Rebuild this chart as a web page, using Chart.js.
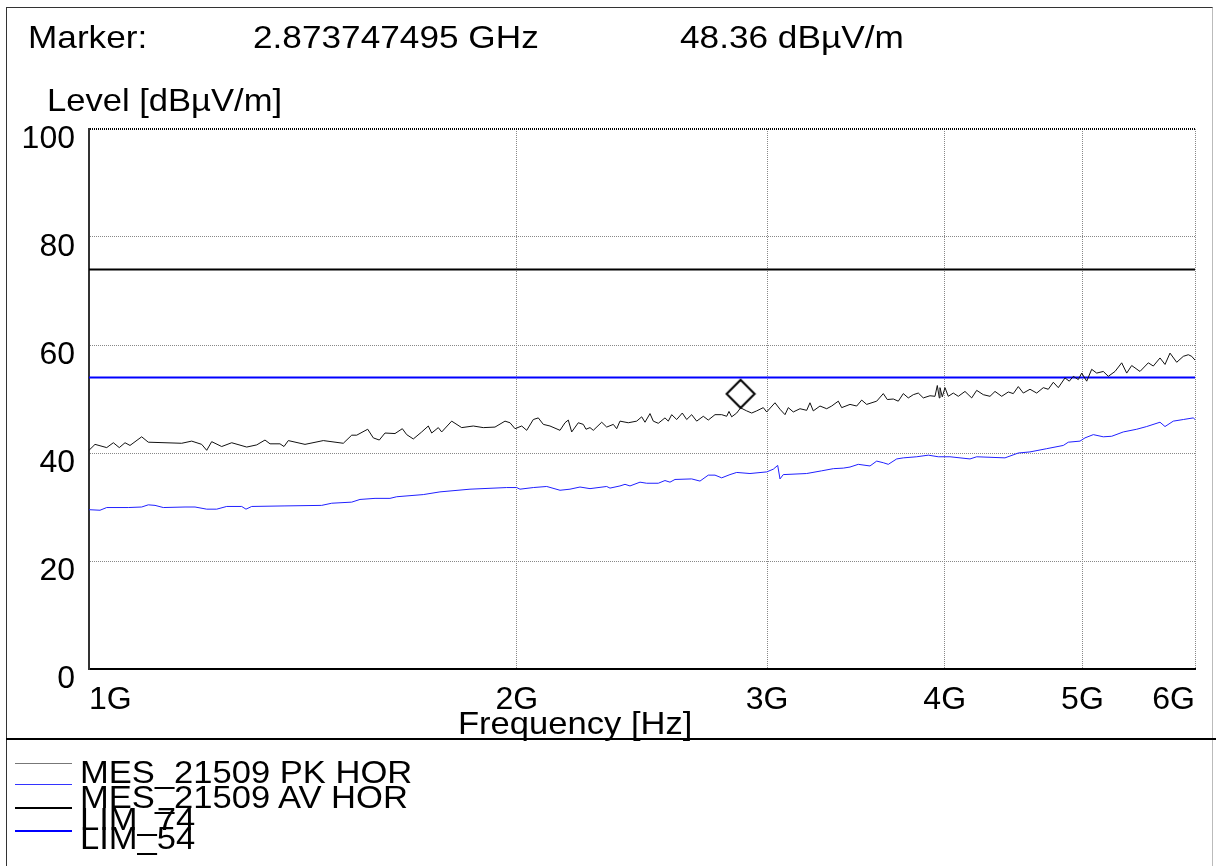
<!DOCTYPE html>
<html>
<head>
<meta charset="utf-8">
<script src="https://cdn.jsdelivr.net/npm/chart.js@4.4.1/dist/chart.umd.min.js"></script>
<style>
    body { margin: 0; background: #fff; }
    #wrap { position: relative; width: 1216px; height: 866px; overflow: hidden; background: #fff; }
    #chart1 { position: absolute; left: 0; top: 0; }
    .frame { position: absolute; left: 6px; top: 7px; width: 1205px; height: 880px; border: 1px solid #333; border-right-color: #bbb; }
    .sep { position: absolute; left: 6px; top: 738px; width: 1210px; height: 2px; background: #000; }
    .txt { position: absolute; font-family: 'Liberation Sans', Arial, sans-serif; font-size: 32px; line-height: 32px; color: #000; white-space: pre; transform-origin: 0 0; transform: scaleX(1.08); }
    .head { transform: scaleX(1.1); }
    .swatch { position: absolute; left: 15px; width: 57px; }
</style>
</head>
<body>
<div id="wrap">
    <div class="frame"></div>
    <div class="sep"></div>
    <canvas id="chart1" width="1216" height="866"></canvas>
    <div class="txt head" style="left:28px;top:21px">Marker:</div>
    <div class="txt head" style="left:253px;top:21px">2.873747495 GHz</div>
    <div class="txt head" style="left:680px;top:21px">48.36 dBµV/m</div>
    <div class="txt" style="left:47px;top:84px">Level [dBµV/m]</div>
    <div class="txt" style="left:458px;top:707px">Frequency [Hz]</div>
    <div class="swatch" style="top:763px;height:1px;background:#777"></div>
    <div class="swatch" style="top:784px;height:1px;background:#3333ff"></div>
    <div class="swatch" style="top:807px;height:2px;background:#000"></div>
    <div class="swatch" style="top:830px;height:2px;background:#0000ff"></div>
    <div class="txt" style="left:80px;top:756px">MES_21509 PK HOR</div>
    <div class="txt" style="left:80px;top:781px">MES_21509 AV HOR</div>
    <div class="txt" style="left:80px;top:803px">LIM_74</div>
    <div class="txt" style="left:80px;top:822px">LIM_54</div>
</div>
<script>
// frequencies in GHz, levels in dBuV/m
var pkFreq = [1.000, 1.0098, 1.0291, 1.0402, 1.0503, 1.0601, 1.0687, 1.0891, 1.1008, 1.1620,
    1.1810, 1.2003, 1.2101, 1.2199, 1.2398, 1.2601, 1.2911, 1.3122, 1.3299, 1.3408,
    1.3626, 1.3715, 1.3811, 1.4190, 1.4617, 1.5098, 1.5305, 1.5429, 1.5707, 1.5850,
    1.6005, 1.6153, 1.6417, 1.6613, 1.6731, 1.6911, 1.7143, 1.7327, 1.7423, 1.7610,
    1.7707, 1.7996, 1.8290, 1.8637, 1.8942, 1.9304, 1.9619, 1.9779, 1.9940, 2.0158,
    2.0322, 2.0540, 2.0707, 2.0876, 2.1103, 2.1448, 2.1622, 2.1738, 2.1858, 2.2093,
    2.2273, 2.2370, 2.2516, 2.2637, 2.2947, 2.3133, 2.3382, 2.3511, 2.3637, 2.3957,
    2.4285, 2.4483, 2.4614, 2.4814, 2.4947, 2.5150, 2.5424, 2.5561, 2.5702, 2.5911,
    2.6147, 2.6334, 2.6548, 2.6764, 2.7052, 2.7272, 2.7570, 2.7870, 2.8097, 2.8202,
    2.8325, 2.8556, 2.8737, 2.9022, 2.9258, 2.9496, 2.9814, 2.9978, 3.0384, 3.0631,
    3.0880, 3.1046, 3.1298, 3.1640, 3.1985, 3.2156, 3.2329, 3.2682, 3.3038, 3.3307,
    3.3666, 3.3851, 3.4310, 3.4684, 3.4966, 3.5250, 3.5826, 3.6211, 3.6447, 3.6803,
    3.7102, 3.7404, 3.7708, 3.8015, 3.8324, 3.8636, 3.9057, 3.9375, 3.9522, 3.9650,
    3.9695, 3.9843, 4.0018, 4.0232, 4.0560, 4.0890, 4.1336, 4.1787, 4.2127, 4.2580,
    4.3045, 4.3395, 4.3868, 4.4340, 4.4701, 4.5064, 4.5431, 4.5926, 4.6427, 4.6927,
    4.7308, 4.7693, 4.8081, 4.8606, 4.8946, 4.9264, 4.9665, 4.9939, 5.0345, 5.0754,
    5.1167, 5.1718, 5.2138, 5.2707, 5.3282, 5.3715, 5.4152, 5.4885, 5.5628, 5.6081,
    5.6693, 5.7154, 5.7619, 5.8247, 5.8874, 5.9353, 5.9681, 6.000];
var pkLevel = [40.5, 41.6, 41.0, 41.9, 41.0, 41.9, 41.4, 43.0, 42.0, 41.8,
    42.2, 41.6, 40.5, 42.1, 41.2, 41.9, 41.1, 41.5, 42.4, 41.7,
    41.7, 41.2, 42.3, 41.6, 42.3, 41.8, 43.3, 43.3, 44.4, 42.8,
    42.4, 43.7, 43.6, 44.5, 43.4, 42.6, 43.9, 45.0, 43.7, 44.7,
    43.9, 45.9, 44.7, 45.0, 44.7, 44.8, 45.9, 45.6, 44.5, 45.0,
    44.2, 46.2, 46.5, 45.3, 45.0, 44.2, 45.6, 46.1, 43.9, 45.6,
    45.3, 44.4, 44.7, 44.2, 45.7, 44.8, 45.3, 44.5, 45.9, 45.6,
    45.9, 46.7, 45.7, 47.3, 45.9, 45.5, 46.5, 45.9, 47.1, 46.2,
    47.4, 46.2, 47.1, 45.9, 46.8, 46.1, 47.1, 47.1, 46.8, 47.7,
    46.7, 47.4, 48.36, 47.8, 47.4, 47.8, 48.4, 47.6, 49.3, 48.1,
    47.1, 48.4, 47.6, 48.2, 47.9, 49.3, 47.8, 48.7, 48.2, 48.7,
    49.6, 48.4, 49.0, 48.7, 49.8, 49.0, 49.6, 51.0, 49.9, 50.0,
    49.6, 51.0, 50.2, 50.8, 51.1, 50.2, 50.6, 50.5, 52.5, 50.2,
    52.1, 50.4, 52.1, 50.5, 51.1, 50.5, 51.4, 50.2, 51.6, 50.8,
    50.5, 51.4, 50.5, 51.3, 51.0, 52.3, 51.1, 51.8, 51.1, 52.1,
    51.8, 53.1, 52.1, 53.9, 53.3, 54.2, 53.6, 54.8, 53.3, 55.5,
    54.8, 55.1, 54.2, 55.1, 56.7, 54.8, 56.2, 55.1, 56.7, 56.1,
    57.6, 56.4, 58.5, 56.8, 57.9, 58.2, 57.9, 57.2];
var avFreq = [1.000, 1.0180, 1.0291, 1.0657, 1.0891, 1.1008, 1.1129, 1.1279, 1.1683, 1.1874,
    1.2101, 1.2298, 1.2499, 1.2807, 1.2896, 1.3016, 1.3737, 1.4578, 1.4817, 1.5305,
    1.5512, 1.5894, 1.6284, 1.6462, 1.7187, 1.7658, 1.8538, 1.9673, 1.9994, 2.0102,
    2.0540, 2.0991, 2.1448, 2.1798, 2.2154, 2.2516, 2.3133, 2.3257, 2.3637, 2.3830,
    2.4023, 2.4416, 2.4680, 2.5150, 2.5424, 2.5631, 2.5840, 2.6548, 2.6908, 2.7272,
    2.7570, 2.7870, 2.8247, 2.8556, 2.9177, 2.9978, 3.0300, 3.0517, 3.0631, 3.0795,
    3.1985, 3.2772, 3.3394, 3.3940, 3.4310, 3.4774, 3.5440, 3.5826, 3.6211, 3.6506,
    3.7006, 3.7404, 3.8224, 3.8950, 3.9587, 4.0342, 4.1672, 4.2127, 4.4103, 4.5064,
    4.5926, 4.7185, 4.8472, 4.8866, 4.9802, 5.0207, 5.0887, 5.1718, 5.2426, 5.3421,
    5.4592, 5.5484, 5.6693, 5.7154, 5.7928, 5.8874, 5.9829, 6.000];
var avLevel = [29.5, 29.4, 29.9, 29.9, 30.0, 30.4, 30.3, 29.9, 30.0, 30.0,
    29.6, 29.6, 30.1, 30.1, 29.6, 30.1, 30.2, 30.3, 30.7, 30.9,
    31.4, 31.6, 31.6, 31.9, 32.3, 32.8, 33.3, 33.6, 33.6, 33.3,
    33.6, 33.8, 33.1, 33.3, 33.7, 33.4, 33.8, 33.5, 33.9, 34.2,
    33.9, 34.6, 34.4, 34.4, 34.9, 34.6, 35.1, 35.2, 34.8, 35.9,
    35.9, 35.4, 36.0, 36.4, 36.2, 36.5, 37.0, 37.7, 35.2, 36.0,
    36.2, 36.7, 37.1, 37.2, 37.4, 37.9, 37.6, 38.5, 38.2, 37.9,
    38.9, 39.1, 39.3, 39.6, 39.3, 39.3, 38.9, 39.3, 39.1, 40.0,
    40.2, 40.8, 41.4, 42.0, 42.2, 42.8, 43.4, 43.0, 43.1, 43.9,
    44.4, 44.9, 45.7, 44.9, 45.9, 46.2, 46.5, 46.2];
var limFreq = [1, 6];
var lim74 = [74, 74];
var lim54 = [54, 54];
var markerFreq = [2.873747495];
var markerLevel = [48.36];
var xTicks = [1, 2, 3, 4, 5, 6];
var xTickLabels = ['1G', '2G', '3G', '4G', '5G', '6G'];
var yTicks = [0, 20, 40, 60, 80, 100];

function toPoints(xs, ys) {
    return xs.map(function(x, i) {
        return { x: x, y: ys[i] };
    });
}

// diamond marker, bottom corner sits on the data point
function diamondMarker() {
    var c = document.createElement('canvas');
    c.width = 32;
    c.height = 64;
    var g = c.getContext('2d');
    g.strokeStyle = '#000';
    g.lineWidth = 2;
    g.beginPath();
    g.moveTo(16, 4);
    g.lineTo(30, 18);
    g.lineTo(16, 32);
    g.lineTo(2, 18);
    g.closePath();
    g.stroke();
    return c;
}

Chart.defaults.font.family = "'Liberation Sans', Arial, sans-serif";
Chart.defaults.font.size = 32;
Chart.defaults.color = '#000';

var ctx = document.getElementById('chart1');
var myChart = new Chart(ctx, {
    type: 'line',
    data: {
        datasets: [{
            label: 'Marker',
            data: toPoints(markerFreq, markerLevel),
            showLine: false,
            pointStyle: diamondMarker(),
            pointRadius: 14,
            pointHoverRadius: 14
        }, {
            label: 'MES_21509 PK HOR',
            data: toPoints(pkFreq, pkLevel),
            borderColor: '#111',
            borderWidth: 1,
            pointRadius: 0,
            tension: 0
        }, {
            label: 'MES_21509 AV HOR',
            data: toPoints(avFreq, avLevel),
            borderColor: '#2020ff',
            borderWidth: 1,
            pointRadius: 0,
            tension: 0
        }, {
            label: 'LIM_74',
            data: toPoints(limFreq, lim74),
            borderColor: '#000',
            borderWidth: 2,
            pointRadius: 0
        }, {
            label: 'LIM_54',
            data: toPoints(limFreq, lim54),
            borderColor: '#0000ff',
            borderWidth: 2,
            pointRadius: 0
        }]
    },
    options: {
        responsive: false,
        animation: false,
        events: [],
        layout: {
            padding: { left: 0, top: 129, right: 21, bottom: 127 }
        },
        plugins: {
            legend: { display: false },
            tooltip: { enabled: false }
        },
        scales: {
            x: {
                type: 'logarithmic',
                min: 1,
                max: 6,
                afterBuildTicks: function(scale) {
                    scale.ticks = xTicks.map(function(v) { return { value: v }; });
                },
                afterFit: function(scale) {
                    scale.height = 70;
                },
                ticks: {
                    align: 'inner',
                    padding: 12,
                    autoSkip: false,
                    maxRotation: 0,
                    callback: function(value, index) {
                        return xTickLabels[index];
                    }
                },
                grid: {
                    color: '#888',
                    lineWidth: 1,
                    drawTicks: false
                },
                border: {
                    color: '#000',
                    width: 2,
                    dash: [1, 1]
                }
            },
            y: {
                min: 0,
                max: 100,
                afterBuildTicks: function(scale) {
                    scale.ticks = yTicks.map(function(v) { return { value: v }; });
                },
                afterFit: function(scale) {
                    scale.width = 89;
                },
                ticks: {
                    padding: 14,
                    labelOffset: 10
                },
                grid: {
                    color: function(c) {
                        return c.tick && c.tick.value === 100 ? '#000' : '#888';
                    },
                    lineWidth: function(c) {
                        return c.tick && c.tick.value === 100 ? 2 : 1;
                    },
                    drawTicks: false
                },
                border: {
                    color: '#333',
                    width: 2,
                    dash: [1, 1]
                }
            }
        }
    }
});
</script>
</body>
</html>
